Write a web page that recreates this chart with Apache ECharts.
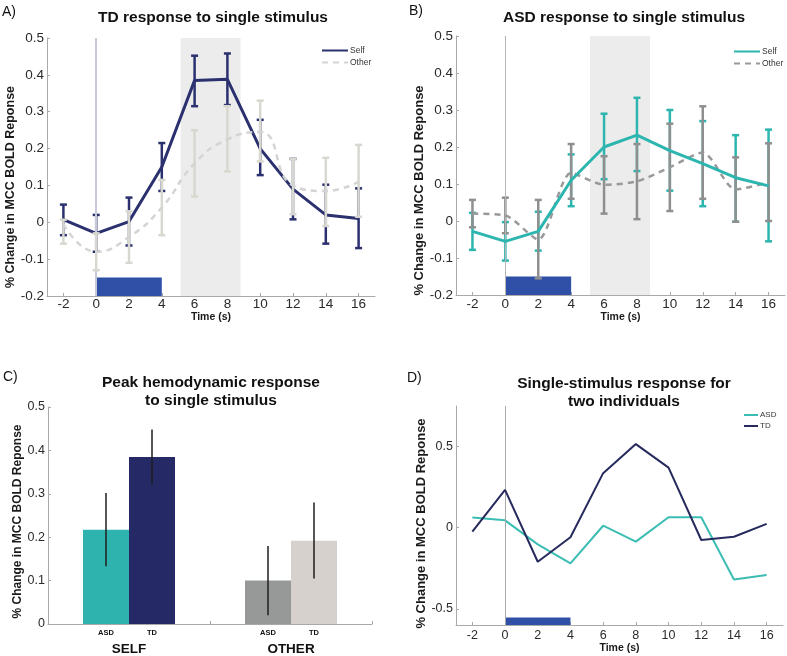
<!DOCTYPE html>
<html><head><meta charset="utf-8">
<script src="https://cdn.jsdelivr.net/npm/echarts@6/dist/echarts.min.js"></script>
<style>html,body{margin:0;padding:0;background:#fff}#c{width:787px;height:656px}</style>
</head><body><div id="c"></div>
<script>
// ---------- data ----------
const timePoints = [-2, 0, 2, 4, 6, 8, 10, 12, 14, 16];
const timeTicks = [-2, 0, 2, 4, 6, 8, 10, 12, 14, 16];
const stimWindow = [0, 4];
const peakWindow = [5.15, 8.8];

// Panel A: TD
const tdSelf      = [0.007, -0.03, 0.002, 0.15, 0.385, 0.388, 0.2, 0.09, 0.02, 0.01];
const tdSelfLow   = [-0.035, -0.08, -0.063, 0.085, 0.315, 0.318, 0.128, 0.008, -0.058, -0.07];
const tdSelfHigh  = [0.048, 0.02, 0.067, 0.215, 0.452, 0.458, 0.278, 0.172, 0.102, 0.092];
const tdOther     = [-0.005, -0.08, -0.04, 0.04, 0.16, 0.225, 0.245, 0.1, 0.085, 0.11];
const tdOtherLow  = [-0.058, -0.13, -0.11, -0.035, 0.07, 0.138, 0.165, 0.022, -0.01, 0.015];
const tdOtherHigh = [0.007, -0.03, 0.03, 0.115, 0.25, 0.315, 0.33, 0.172, 0.175, 0.21];

// Panel B: ASD
const asdSelf      = [-0.028, -0.055, -0.028, 0.11, 0.2, 0.232, 0.19, 0.155, 0.117, 0.095];
const asdSelfLow   = [-0.078, -0.107, -0.08, 0.04, 0.113, 0.135, 0.082, 0.04, -0.002, -0.055];
const asdSelfHigh  = [0.022, -0.003, 0.025, 0.18, 0.29, 0.333, 0.3, 0.27, 0.232, 0.247];
const asdOther     = [0.02, 0.015, -0.05, 0.13, 0.098, 0.107, 0.145, 0.185, 0.085, 0.105];
const asdOtherLow  = [-0.017, -0.033, -0.155, 0.06, 0.02, 0.005, 0.027, 0.06, -0.002, 0.0];
const asdOtherHigh = [0.057, 0.063, 0.057, 0.208, 0.175, 0.208, 0.263, 0.31, 0.172, 0.21];

// Panel C: peaks
const peakGroups   = ['SELF', 'OTHER'];
const asdPeak      = [0.217, 0.1];
const asdPeakLow   = [0.133, 0.02];
const asdPeakHigh  = [0.302, 0.18];
const tdPeak       = [0.385, 0.192];
const tdPeakLow    = [0.322, 0.105];
const tdPeakHigh   = [0.448, 0.28];

// Panel D: individuals
const indivASD = [0.062, 0.045, -0.103, -0.22, 0.012, -0.086, 0.064, 0.064, -0.319, -0.292];
const indivTD  = [-0.025, 0.233, -0.21, -0.059, 0.336, 0.515, 0.37, -0.076, -0.056, 0.023];
const indivTicks = [-0.5, 0, 0.5];

// ---------- styles ----------
const FONT = '"Liberation Sans", Arial, sans-serif';
const NAVY = '#2b306f', TEAL = '#2db5af', STIM = '#3050a8', SHADE = '#ececec';
const AX = '#a9a9a9', LBL = '#2a2a2a';

const pairs = (xs, ys) => xs.map((x, i) => [x, ys[i]]);
const errData = (lo, hi) => timePoints.map((t, i) => [t, lo[i], hi[i]]);

function errRender(color, cap, width) {
  return function (params, api) {
    const x = api.value(0), lo = api.value(1), hi = api.value(2);
    const p1 = api.coord([x, hi]), p2 = api.coord([x, lo]);
    const style = { stroke: color, lineWidth: width, fill: null };
    return { type: 'group', children: [
      { type: 'line', shape: { x1: p1[0], y1: p1[1], x2: p2[0], y2: p2[1] }, style },
      { type: 'line', shape: { x1: p1[0] - cap, y1: p1[1], x2: p1[0] + cap, y2: p1[1] }, style },
      { type: 'line', shape: { x1: p2[0] - cap, y1: p2[1], x2: p2[0] + cap, y2: p2[1] }, style }
    ]};
  };
}

const BAR_RATIO = 0.284;
function barErr(side) {
  return function (params, api) {
    const c = api.value(0), lo = api.value(1), hi = api.value(2);
    const band = api.size([1, 0])[0];
    const off = side * band * BAR_RATIO / 2;
    const p1 = api.coord([c, hi]), p2 = api.coord([c, lo]);
    return { type: 'line', shape: { x1: p1[0] + off, y1: p1[1], x2: p2[0] + off, y2: p2[1] },
      style: { stroke: '#1e1e1e', lineWidth: 1.5 } };
  };
}

function timeAxis(gi, labelSize, margin, nameGap) {
  return {
    type: 'value', gridIndex: gi, min: -3, max: 17,
    axisLine: { show: true, onZero: false, lineStyle: { color: AX, width: 1 } },
    axisTick: { show: true, inside: true, length: 3, customValues: timeTicks, lineStyle: { color: AX } },
    axisLabel: { customValues: timeTicks, color: LBL, fontSize: labelSize, margin: margin, fontFamily: FONT },
    splitLine: { show: false },
    name: 'Time (s)', nameLocation: 'middle', nameGap: nameGap,
    nameTextStyle: { fontWeight: 'bold', fontSize: 10.5, color: '#1a1a1a', fontFamily: FONT }
  };
}
function valAxis(gi, opts, nameGap, shift, nameSize) {
  return Object.assign({
    type: 'value', gridIndex: gi,
    axisLine: { show: true, onZero: false, lineStyle: { color: AX, width: 1 } },
    axisTick: { show: true, inside: true, length: 3, lineStyle: { color: AX } },
    axisLabel: { color: LBL, fontSize: 13.5, margin: 3, fontFamily: FONT },
    splitLine: { show: false },
    name: '% Change in MCC BOLD Reponse', nameLocation: 'middle', nameGap: nameGap,
    nameTextStyle: { fontWeight: 'bold', fontSize: nameSize, color: '#1a1a1a', fontFamily: FONT,
      padding: [0, shift * 2, 0, 0] }
  }, opts);
}

const stimArea = (bottom, top) => [{ xAxis: stimWindow[0], yAxis: bottom, itemStyle: { color: STIM } }, { xAxis: stimWindow[1], yAxis: top }];
const shadeArea = (bottom, top) => [{ xAxis: peakWindow[0], yAxis: bottom, itemStyle: { color: SHADE } }, { xAxis: peakWindow[1], yAxis: top }];

const legendBase = (names, left, top, w, gap, fs) => ({
  data: names, left: left, top: top, orient: 'vertical', itemWidth: w, itemHeight: 10, itemGap: gap,
  formatter: n => n.slice(2), selectedMode: false,
  itemStyle: { color: 'rgba(0,0,0,0)', borderWidth: 0, opacity: 0 },
  textStyle: { fontSize: fs, color: '#333', fontFamily: FONT, padding: [0, 0, 0, -3] }
});

const option = {
  animation: false,
  backgroundColor: '#fff',
  grid: [
    { left: 47, top: 38, width: 328, height: 258 },
    { left: 456, top: 36, width: 329, height: 259 },
    { left: 48, top: 407, width: 324, height: 220 },
    { left: 456, top: 406, width: 327, height: 219 }
  ],
  xAxis: [
    timeAxis(0, 13.5, 1, 13),
    timeAxis(1, 13.5, 2, 14),
    {
      type: 'category', gridIndex: 2, data: peakGroups, boundaryGap: true,
      axisLine: { show: true, lineStyle: { color: AX } },
      axisTick: { show: true, inside: true, length: 3, lineStyle: { color: AX } },
      axisLabel: { color: '#111', fontSize: 13.5, fontWeight: 'bold', margin: 18, fontFamily: FONT }
    },
    timeAxis(3, 12.5, 4, 17)
  ],
  yAxis: [
    valAxis(0, { min: -0.2, max: 0.5, interval: 0.1 }, 19, 20, 12.5),
    valAxis(1, { min: -0.2, max: 0.5, interval: 0.1 }, 21, 25, 13),
    valAxis(2, { min: 0, max: 0.5, interval: 0.1, axisLabel: { color: LBL, fontSize: 12.5, margin: 3, fontFamily: FONT } }, 20, 6, 12),
    valAxis(3, { min: -0.6, max: 0.75,
      axisTick: { show: true, inside: true, length: 3, customValues: indivTicks, lineStyle: { color: AX } },
      axisLabel: { customValues: indivTicks, color: LBL, fontSize: 12.5, margin: 3, fontFamily: FONT } }, 19, 8, 13)
  ],
  legend: [
    legendBase(['A-Self', 'A-Other'], 316, 41, 26, 3, 8.5),
    legendBase(['B-Self', 'B-Other'], 728, 42, 26, 3, 8.5),
    legendBase(['D-ASD', 'D-TD'], 738, 406, 14, 3, 8)
  ],
  graphic: [
    { type: 'text', x: 2, y: 12, style: { text: 'A)', font: '14px ' + FONT, fill: '#111', verticalAlign: 'middle' } },
    { type: 'text', x: 409, y: 11, style: { text: 'B)', font: '14px ' + FONT, fill: '#111', verticalAlign: 'middle' } },
    { type: 'text', x: 3, y: 377, style: { text: 'C)', font: '14px ' + FONT, fill: '#111', verticalAlign: 'middle' } },
    { type: 'text', x: 407, y: 378, style: { text: 'D)', font: '14px ' + FONT, fill: '#111', verticalAlign: 'middle' } },
    { type: 'text', x: 213, y: 18, style: { text: 'TD response to single stimulus', font: 'bold 15.5px ' + FONT, fill: '#111', align: 'center', verticalAlign: 'middle' } },
    { type: 'text', x: 624, y: 18, style: { text: 'ASD response to single stimulus', font: 'bold 15.5px ' + FONT, fill: '#111', align: 'center', verticalAlign: 'middle' } },
    { type: 'text', x: 211, y: 392, style: { text: 'Peak hemodynamic response\nto single stimulus', font: 'bold 15.5px ' + FONT, lineHeight: 18, fill: '#111', align: 'center', verticalAlign: 'middle' } },
    { type: 'text', x: 624, y: 393, style: { text: 'Single-stimulus response for\ntwo individuals', font: 'bold 15.5px ' + FONT, lineHeight: 18, fill: '#111', align: 'center', verticalAlign: 'middle' } }
  ],
  series: [
    // ----- Panel A -----
    { name: 'A-Self', type: 'line', xAxisIndex: 0, yAxisIndex: 0, data: pairs(timePoints, tdSelf),
      symbol: 'none', z: 4, lineStyle: { color: NAVY, width: 3 }, itemStyle: { color: NAVY },
      markArea: { silent: true, data: [shadeArea(-0.2, 0.5), stimArea(-0.2, -0.15)] },
      markLine: { silent: true, symbol: 'none', label: { show: false },
        lineStyle: { color: '#c6cad8', width: 2, type: 'solid' }, data: [{ xAxis: stimWindow[0] }] } },
    { name: 'A-SelfErr', type: 'custom', xAxisIndex: 0, yAxisIndex: 0, data: errData(tdSelfLow, tdSelfHigh),
      encode: { x: 0, y: [1, 2] }, z: 3, renderItem: errRender(NAVY, 3.5, 2.5) },
    { name: 'A-OtherErr', type: 'custom', xAxisIndex: 0, yAxisIndex: 0, data: errData(tdOtherLow, tdOtherHigh),
      encode: { x: 0, y: [1, 2] }, z: 5, renderItem: errRender('#d8d8d0', 3.5, 2.5) },
    { name: 'A-Other', type: 'line', xAxisIndex: 0, yAxisIndex: 0, data: pairs(timePoints, tdOther),
      symbol: 'none', smooth: 0.5, z: 6, lineStyle: { color: '#d4d4d4', width: 2.5, type: [6, 5] }, itemStyle: { color: '#d4d4d4' } },

    // ----- Panel B -----
    { name: 'B-Self', type: 'line', xAxisIndex: 1, yAxisIndex: 1, data: pairs(timePoints, asdSelf),
      symbol: 'none', z: 6, lineStyle: { color: TEAL, width: 3 }, itemStyle: { color: TEAL },
      markArea: { silent: true, data: [shadeArea(-0.2, 0.5), stimArea(-0.2, -0.15)] },
      markLine: { silent: true, symbol: 'none', label: { show: false },
        lineStyle: { color: '#b5b5b5', width: 1, type: 'solid' }, data: [{ xAxis: stimWindow[0] }] } },
    { name: 'B-SelfErr', type: 'custom', xAxisIndex: 1, yAxisIndex: 1, data: errData(asdSelfLow, asdSelfHigh),
      encode: { x: 0, y: [1, 2] }, z: 3, renderItem: errRender(TEAL, 3.5, 2.5) },
    { name: 'B-OtherErr', type: 'custom', xAxisIndex: 1, yAxisIndex: 1, data: errData(asdOtherLow, asdOtherHigh),
      encode: { x: 0, y: [1, 2] }, z: 4, renderItem: errRender('#8f8f8f', 3.5, 2.5) },
    { name: 'B-Other', type: 'line', xAxisIndex: 1, yAxisIndex: 1, data: pairs(timePoints, asdOther),
      symbol: 'none', smooth: 0.25, z: 5, lineStyle: { color: '#999999', width: 2.5, type: [6, 5] }, itemStyle: { color: '#999999' } },

    // ----- Panel C -----
    { name: 'C-ASD', type: 'bar', xAxisIndex: 2, yAxisIndex: 2, barWidth: (BAR_RATIO * 100) + '%', barGap: '0%',
      data: asdPeak.map((v, i) => ({ value: v, itemStyle: { color: ['#2fb3ae', '#969998'][i] } })),
      label: { show: true, position: 'bottom', distance: 5, formatter: p => p.seriesName.slice(2),
        fontSize: 7.5, fontWeight: 'bold', color: '#111', fontFamily: FONT } },
    { name: 'C-TD', type: 'bar', xAxisIndex: 2, yAxisIndex: 2, barWidth: (BAR_RATIO * 100) + '%', barGap: '0%',
      data: tdPeak.map((v, i) => ({ value: v, itemStyle: { color: ['#252a66', '#d6d1cc'][i] } })),
      label: { show: true, position: 'bottom', distance: 5, formatter: p => p.seriesName.slice(2),
        fontSize: 7.5, fontWeight: 'bold', color: '#111', fontFamily: FONT } },
    { name: 'C-ASDErr', type: 'custom', xAxisIndex: 2, yAxisIndex: 2, z: 5,
      data: peakGroups.map((g, i) => [i, asdPeakLow[i], asdPeakHigh[i]]), encode: { x: 0, y: [1, 2] }, renderItem: barErr(-1) },
    { name: 'C-TDErr', type: 'custom', xAxisIndex: 2, yAxisIndex: 2, z: 5,
      data: peakGroups.map((g, i) => [i, tdPeakLow[i], tdPeakHigh[i]]), encode: { x: 0, y: [1, 2] }, renderItem: barErr(1) },

    // ----- Panel D -----
    { name: 'D-ASD', type: 'line', xAxisIndex: 3, yAxisIndex: 3, data: pairs(timePoints, indivASD),
      symbol: 'none', z: 4, lineStyle: { color: '#3bbdb4', width: 2 }, itemStyle: { color: '#3bbdb4' },
      markArea: { silent: true, data: [stimArea(-0.6, -0.553)] },
      markLine: { silent: true, symbol: 'none', label: { show: false },
        lineStyle: { color: '#a8a8a8', width: 1, type: 'solid' }, data: [{ xAxis: stimWindow[0] }] } },
    { name: 'D-TD', type: 'line', xAxisIndex: 3, yAxisIndex: 3, data: pairs(timePoints, indivTD),
      symbol: 'none', z: 5, lineStyle: { color: '#262a5c', width: 2 }, itemStyle: { color: '#262a5c' } }
  ]
};

const chart = echarts.init(document.getElementById('c'), null, { renderer: 'canvas' });
chart.setOption(option);
</script>
</body></html>
